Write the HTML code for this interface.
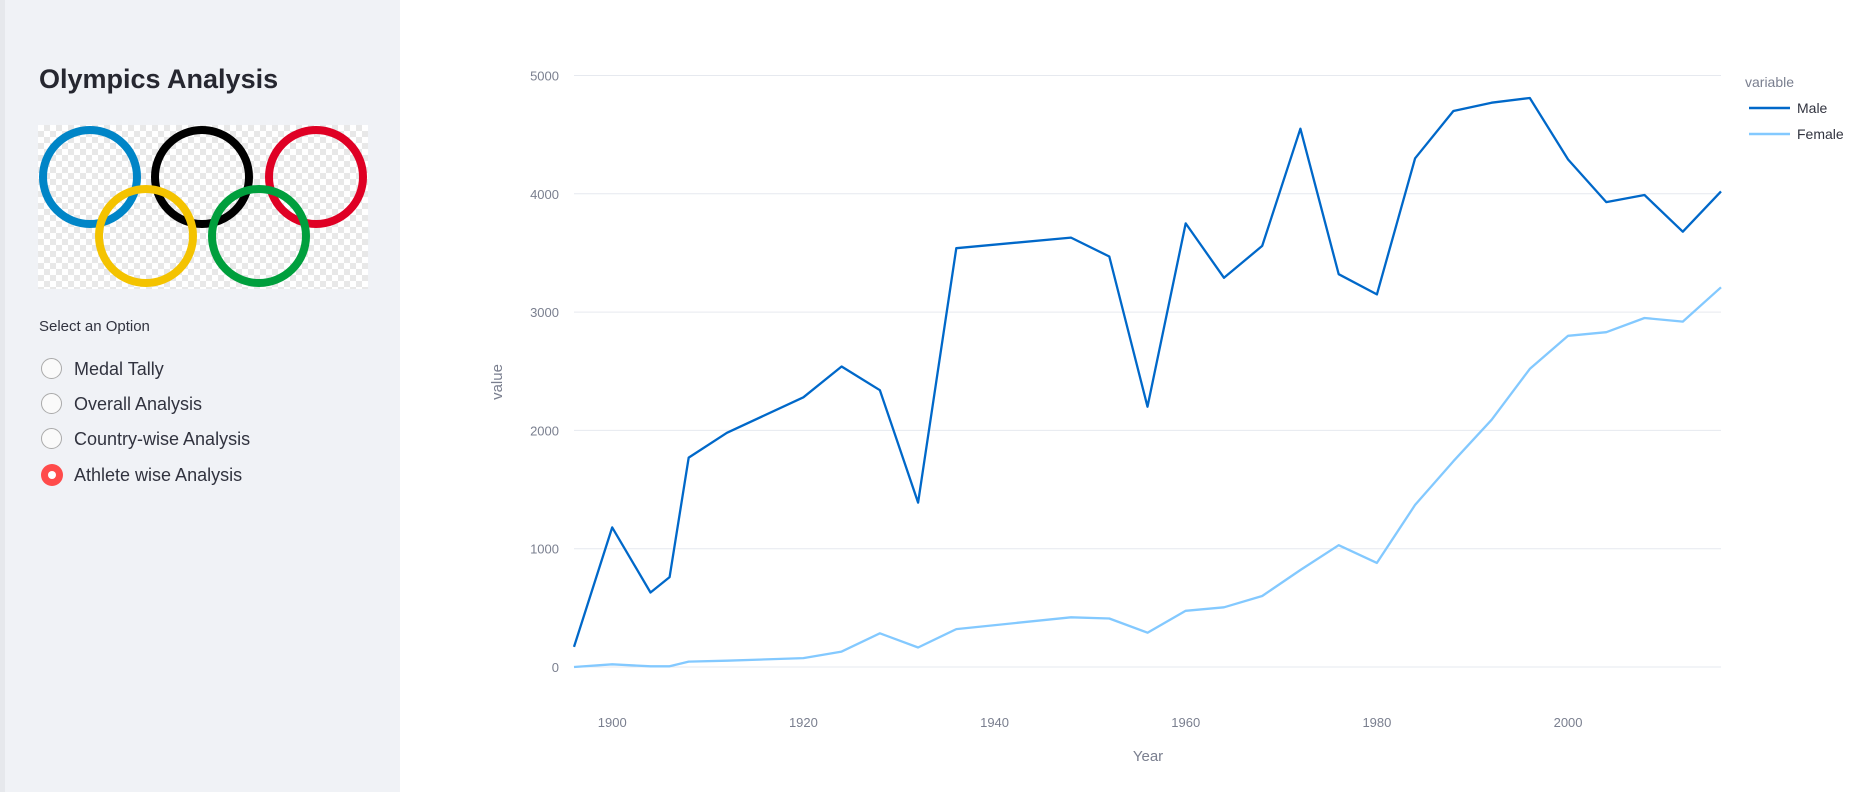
<!DOCTYPE html>
<html><head><meta charset="utf-8">
<style>
html,body{margin:0;padding:0;width:1862px;height:792px;overflow:hidden;background:#fff;font-family:"Liberation Sans",sans-serif;}
#sidebar{position:absolute;left:0;top:0;width:400px;height:792px;background:#f0f2f6;}
#sidebar .edge{position:absolute;left:0;top:0;width:5px;height:792px;background:#e6e8ec;}
h1{position:absolute;left:39px;top:64px;margin:0;font-size:27px;font-weight:bold;color:#262730;}
#rings{position:absolute;left:38px;top:125px;width:330px;height:164px;
background-color:#fff;background-image:linear-gradient(45deg,#e8e8e8 25%,transparent 25%,transparent 75%,#e8e8e8 75%),linear-gradient(45deg,#e8e8e8 25%,transparent 25%,transparent 75%,#e8e8e8 75%);background-size:12px 12px;background-position:0 0,6px 6px;}
.lbl{position:absolute;left:39px;top:318px;font-size:15px;color:#31333f;}
.opt{position:absolute;left:41px;height:24px;font-size:18px;color:#31333f;line-height:24px;}
.opt .c{position:absolute;left:0;top:1px;width:19px;height:19px;border:1px solid #aaa;border-radius:50%;background:#fafafa;}
.opt .c.on{border:none;width:22px;height:22px;background:#ff4b4b;}
.opt .c.on::after{content:"";position:absolute;left:7px;top:7px;width:8px;height:8px;border-radius:50%;background:#fff;}
.opt span{position:absolute;left:33px;top:0;white-space:nowrap;}
</style></head><body>
<div id="sidebar">
<div class="edge"></div>
<h1>Olympics Analysis</h1>
<div id="rings">
<svg width="330" height="164" viewBox="0 0 330 164">
<g fill="none" stroke-width="8">
<circle cx="52" cy="52" r="47" stroke="#0085c7"/>
<circle cx="164" cy="52" r="47" stroke="#000"/>
<circle cx="278" cy="52" r="47" stroke="#df0024"/>
<circle cx="108" cy="111" r="47" stroke="#f4c300"/>
<circle cx="221" cy="111" r="47" stroke="#009f3d"/>
</g></svg></div>
<div class="lbl">Select an Option</div>
<div class="opt" style="top:357px"><div class="c"></div><span>Medal Tally</span></div>
<div class="opt" style="top:392px"><div class="c"></div><span>Overall Analysis</span></div>
<div class="opt" style="top:427px"><div class="c"></div><span>Country-wise Analysis</span></div>
<div class="opt" style="top:463px"><div class="c on"></div><span>Athlete wise Analysis</span></div>
</div>
<svg id="chart" width="1862" height="792" style="position:absolute;left:0;top:0"></svg>
<script>
const years=[1896,1900,1904,1906,1908,1912,1920,1924,1928,1932,1936,1948,1952,1956,1960,1964,1968,1972,1976,1980,1984,1988,1992,1996,2000,2004,2008,2012,2016];
const maleValues=[170,1180,630,760,1770,1980,2280,2540,2340,1390,3540,3630,3470,2200,3750,3290,3560,4550,3320,3150,4300,4700,4770,4810,4290,3930,3990,3680,4020];
const femaleValues=[0,23,6,6,46,53,75,130,285,165,320,420,410,290,475,505,600,820,1030,880,1370,1740,2090,2520,2800,2830,2950,2920,3210];
const yTicks=[0,1000,2000,3000,4000,5000];
const xTicks=[1900,1920,1940,1960,1980,2000];
const seriesNames=["Male","Female"];
const x0=574,x1=1721,y0=667,y1=75.5;
function xs(v){return x0+(v-1896)/(2016-1896)*(x1-x0);}
function ys(v){return y0-(v/5000)*(y0-y1);}
const svg=document.getElementById('chart');
const NS="http://www.w3.org/2000/svg";
function mk(t,a,txt){const e=document.createElementNS(NS,t);for(const k in a)e.setAttribute(k,a[k]);if(txt!==undefined)e.textContent=txt;svg.appendChild(e);return e;}
yTicks.forEach(v=>{
 const g=mk('line',{x1:x0,x2:x1,y1:ys(v),y2:ys(v),stroke:'#e6e9ef','stroke-width':1});
 
 
 const t=mk('text',{x:x0-15,y:ys(v)+5,'text-anchor':'end','font-size':13,fill:'#7a7f8f','font-family':'Liberation Sans, sans-serif'},String(v));
 
 
});
xTicks.forEach(v=>{
 const t=mk('text',{x:xs(v),y:727,'text-anchor':'middle','font-size':13,fill:'#7a7f8f','font-family':'Liberation Sans, sans-serif'},String(v));
 
 
});
const yt=mk('text',{x:0,y:0,transform:'translate(502,382) rotate(-90)','text-anchor':'middle','font-size':15,fill:'#7a7f8f','font-family':'Liberation Sans, sans-serif'},'value');


const xt=mk('text',{x:1148,y:761,'text-anchor':'middle','font-size':15,fill:'#7a7f8f','font-family':'Liberation Sans, sans-serif'},'Year');


function line(vals,color,name){
 const d=vals.map((v,i)=>(i?'L':'M')+xs(years[i]).toFixed(1)+','+ys(v).toFixed(1)).join(' ');
 const p=mk('path',{d:d,fill:'none',stroke:color,'stroke-width':2.3,'stroke-linejoin':'round'});
 
 
}
line(femaleValues,'#83c9ff','female-line');
line(maleValues,'#0068c9','male-line');
const lt=mk('text',{x:1745,y:87,'font-size':14,fill:'#7a7f8f','font-family':'Liberation Sans, sans-serif'},'variable');


[['#0068c9',108],['#83c9ff',134]].forEach((c,i)=>{
 const l=mk('line',{x1:1749,x2:1790,y1:c[1],y2:c[1],stroke:c[0],'stroke-width':2.5});
 
 
 const t=mk('text',{x:1797,y:c[1]+5,'font-size':14,fill:'#31333f','font-family':'Liberation Sans, sans-serif'},seriesNames[i]);
 
 
});
</script>
</body></html>
